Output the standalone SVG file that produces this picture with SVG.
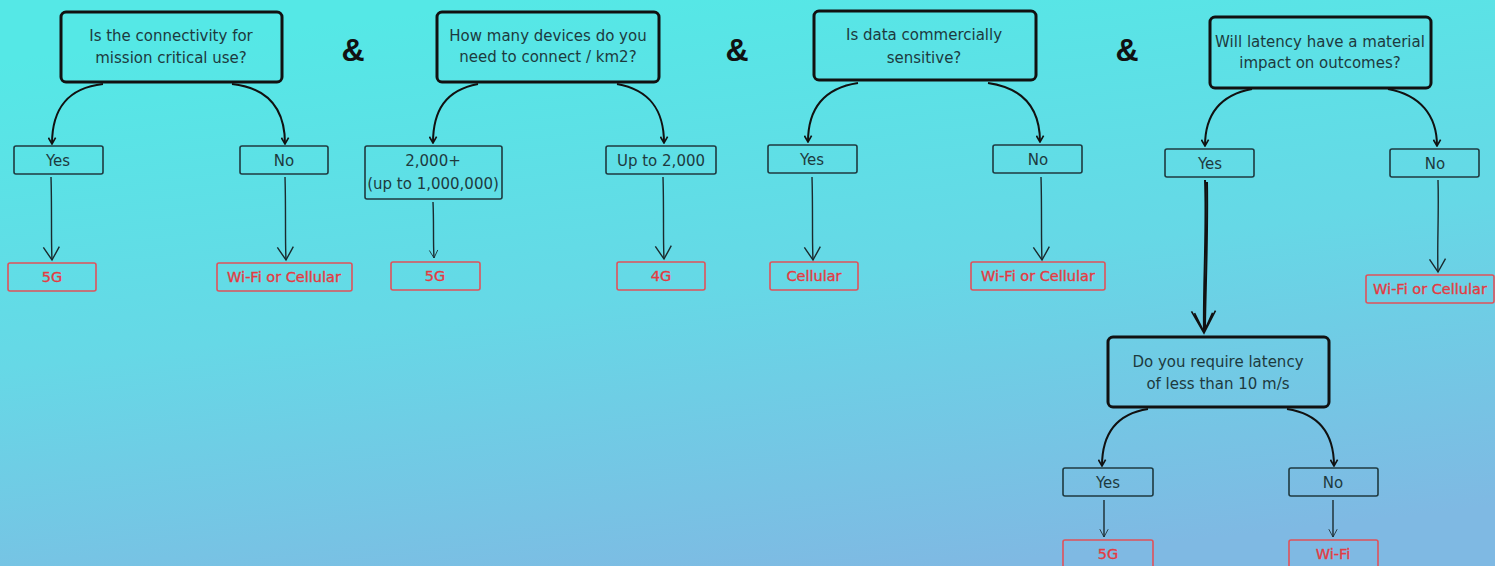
<svg xmlns="http://www.w3.org/2000/svg" width="1495" height="566" viewBox="0 0 1495 566">
<defs>
<linearGradient id="bg" x1="0.35" y1="0" x2="0.65" y2="1">
<stop offset="0" stop-color="#55e8e6"/>
<stop offset="0.5" stop-color="#66d8e6"/>
<stop offset="1" stop-color="#7fb9e3"/>
</linearGradient>
<marker id="ah" viewBox="0 0 10 10" refX="9" refY="5" markerWidth="9" markerHeight="9" orient="auto" markerUnits="userSpaceOnUse">
<path d="M2,1 L9,5 L2,9" fill="none" stroke="#111" stroke-width="1.8"/>
</marker>
<marker id="av" viewBox="0 0 20 20" refX="18" refY="10" markerWidth="20" markerHeight="20" orient="auto" markerUnits="userSpaceOnUse">
<path d="M5,2 L18,10 L5,18" fill="none" stroke="#1a2a2e" stroke-width="1.4"/>
</marker>
<marker id="avs" viewBox="0 0 20 20" refX="18" refY="10" markerWidth="12" markerHeight="12" orient="auto" markerUnits="userSpaceOnUse">
<path d="M5,3 L18,10 L5,17" fill="none" stroke="#1a2a2e" stroke-width="1.4"/>
</marker>
<marker id="avb" viewBox="0 0 30 30" refX="28" refY="15" markerWidth="30" markerHeight="30" orient="auto" markerUnits="userSpaceOnUse">
<path d="M6,3 L28,15 L6,27 M8,6 L27,15 L8,24" fill="none" stroke="#111" stroke-width="1.6"/>
</marker>
</defs>
<style>
.q{fill:none;stroke:#111;stroke-width:3}
.o{fill:none;stroke:#1f3a40;stroke-width:1.6}
.r{fill:none;stroke:#e0525a;stroke-width:1.6}
.qt{font-family:"DejaVu Sans","Liberation Sans",sans-serif;font-size:15px;fill:#1d3a3e;text-anchor:middle}
.ot{font-family:"DejaVu Sans","Liberation Sans",sans-serif;font-size:15px;fill:#1d3a3e;text-anchor:middle}
.rt{font-family:"DejaVu Sans","Liberation Sans",sans-serif;font-size:14.5px;fill:#e43a42;stroke:#e43a42;stroke-width:0.35;text-anchor:middle}
.amp{font-family:"Liberation Sans",sans-serif;font-size:32px;font-weight:bold;fill:#111;text-anchor:middle}
.c{fill:none;stroke:#111;stroke-width:2}
.d{fill:none;stroke:#1a2a2e;stroke-width:1.4}
</style>
<rect width="1495" height="566" fill="url(#bg)"/>

<g id="amp1"><text class="amp" x="353" y="61">&amp;</text></g>
<g id="amp2"><text class="amp" x="737" y="61">&amp;</text></g>
<g id="amp3"><text class="amp" x="1127" y="61">&amp;</text></g>

<g id="q1"><rect class="q" x="61" y="12" width="221" height="70" rx="5"/>
<text class="qt" x="171" y="41">Is the connectivity for</text>
<text class="qt" x="171" y="63">mission critical use?</text></g>
<g id="q1yes"><rect class="o" x="14" y="146" width="89" height="28" rx="2"/><text class="ot" x="58" y="166">Yes</text></g>
<g id="q1no"><rect class="o" x="240" y="146" width="88" height="28" rx="2"/><text class="ot" x="284" y="166">No</text></g>
<g id="r1a"><rect class="r" x="8" y="263" width="88" height="28" rx="2"/><text class="rt" x="52" y="282">5G</text></g>
<g id="r1b"><rect class="r" x="217" y="263" width="135" height="28" rx="2"/><text class="rt" x="284" y="282">Wi-Fi or Cellular</text></g>

<g id="q2"><rect class="q" x="437" y="12" width="222" height="70" rx="5"/>
<text class="qt" x="548" y="41">How many devices do you</text>
<text class="qt" x="548" y="62">need to connect / km2?</text></g>
<g id="q2a"><rect class="o" x="365" y="146" width="137" height="53" rx="2"/><text class="ot" x="433" y="166">2,000+</text><text class="ot" x="433" y="189" font-size="14">(up to 1,000,000)</text></g>
<g id="q2b"><rect class="o" x="606" y="146" width="110" height="28" rx="2"/><text class="ot" x="661" y="166">Up to 2,000</text></g>
<g id="r2a"><rect class="r" x="391" y="262" width="89" height="28" rx="2"/><text class="rt" x="435" y="281">5G</text></g>
<g id="r2b"><rect class="r" x="617" y="262" width="88" height="28" rx="2"/><text class="rt" x="661" y="281">4G</text></g>

<g id="q3"><rect class="q" x="814" y="11" width="222" height="69" rx="5"/>
<text class="qt" x="924" y="40">Is data commercially</text>
<text class="qt" x="924" y="63">sensitive?</text></g>
<g id="q3yes"><rect class="o" x="768" y="145" width="89" height="28" rx="2"/><text class="ot" x="812" y="165">Yes</text></g>
<g id="q3no"><rect class="o" x="993" y="145" width="89" height="28" rx="2"/><text class="ot" x="1038" y="165">No</text></g>
<g id="r3a"><rect class="r" x="770" y="262" width="88" height="28" rx="2"/><text class="rt" x="814" y="281">Cellular</text></g>
<g id="r3b"><rect class="r" x="971" y="262" width="134" height="28" rx="2"/><text class="rt" x="1038" y="281">Wi-Fi or Cellular</text></g>

<g id="q4"><rect class="q" x="1210" y="17" width="221" height="71" rx="5"/>
<text class="qt" x="1320" y="47">Will latency have a material</text>
<text class="qt" x="1320" y="68">impact on outcomes?</text></g>
<g id="q4yes"><rect class="o" x="1165" y="149" width="89" height="28" rx="2"/><text class="ot" x="1210" y="169">Yes</text></g>
<g id="q4no"><rect class="o" x="1390" y="149" width="89" height="28" rx="2"/><text class="ot" x="1435" y="169">No</text></g>
<g id="r4b"><rect class="r" x="1366" y="275" width="128" height="28" rx="2"/><text class="rt" x="1430" y="294">Wi-Fi or Cellular</text></g>

<g id="q5"><rect class="q" x="1108" y="337" width="221" height="70" rx="5"/>
<text class="qt" x="1218" y="367">Do you require latency</text>
<text class="qt" x="1218" y="389">of less than 10 m/s</text></g>
<g id="q5yes"><rect class="o" x="1063" y="468" width="90" height="28" rx="2"/><text class="ot" x="1108" y="488">Yes</text></g>
<g id="q5no"><rect class="o" x="1289" y="468" width="89" height="28" rx="2"/><text class="ot" x="1333" y="488">No</text></g>
<g id="r5a"><rect class="r" x="1063" y="540" width="90" height="30" rx="2"/><text class="rt" x="1108" y="559">5G</text></g>
<g id="r5b"><rect class="r" x="1289" y="540" width="89" height="30" rx="2"/><text class="rt" x="1333" y="559">Wi-Fi</text></g>

<g id="connectors">
<path class="c" d="M103,84 C68,88 52,108 52,144" marker-end="url(#ah)"/>
<path class="c" d="M232,84 C268,88 285,108 285,144" marker-end="url(#ah)"/>
<path class="d" d="M51,177 C52,210 51,240 52,260" marker-end="url(#av)"/>
<path class="d" d="M285,177 C286,210 285,240 286,260" marker-end="url(#av)"/>

<path class="c" d="M478,84 C446,90 433,110 433,143" marker-end="url(#ah)"/>
<path class="c" d="M617,84 C650,90 664,110 664,143" marker-end="url(#ah)"/>
<path class="d" d="M433,202 C434,225 433,240 434,258" marker-end="url(#avs)"/>
<path class="d" d="M663,177 C664,210 663,240 664,259" marker-end="url(#av)"/>

<path class="c" d="M858,83 C825,88 808,108 808,142" marker-end="url(#ah)"/>
<path class="c" d="M988,83 C1023,88 1040,108 1040,142" marker-end="url(#ah)"/>
<path class="d" d="M812,177 C813,210 812,240 813,260" marker-end="url(#av)"/>
<path class="d" d="M1041,177 C1042,210 1041,240 1042,260" marker-end="url(#av)"/>

<path class="c" d="M1252,89 C1220,95 1205,115 1205,146" marker-end="url(#ah)"/>
<path class="c" d="M1388,89 C1420,95 1437,115 1437,146" marker-end="url(#ah)"/>
<path class="c" d="M1205,180 C1207,230 1203,290 1204,333" marker-end="url(#avb)"/>
<path class="c" d="M1207,182 C1208,240 1205,300 1205,330" stroke-width="1"/>
<path class="d" d="M1438,180 C1439,215 1437,245 1438,272" marker-end="url(#av)"/>

<path class="c" d="M1148,409 C1116,414 1102,435 1102,466" marker-end="url(#ah)"/>
<path class="c" d="M1287,409 C1320,414 1334,435 1334,466" marker-end="url(#ah)"/>
<path class="d" d="M1104,500 L1104,537" stroke-width="1" marker-end="url(#avs)"/>
<path class="d" d="M1333,500 L1333,537" stroke-width="1" marker-end="url(#avs)"/>
</g>
</svg>
